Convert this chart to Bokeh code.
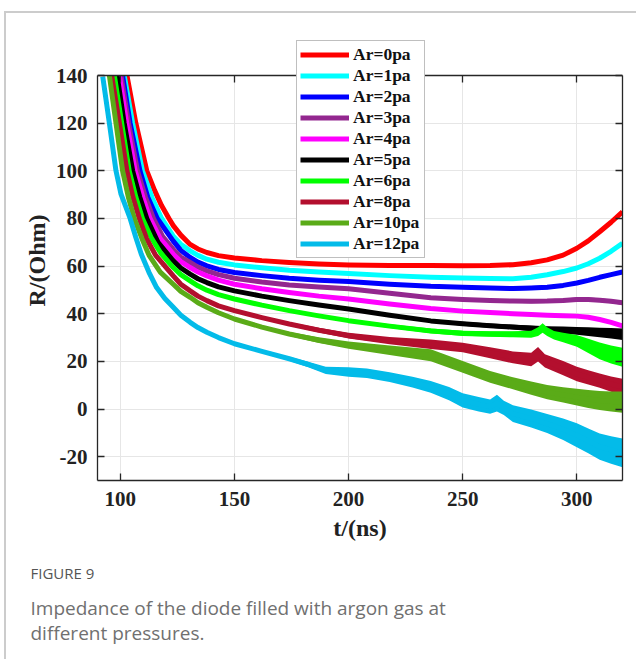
from bokeh.plotting import figure
from bokeh.models import (Range1d, LinearAxis, Legend, LegendItem, Title, FixedTicker,
                          CustomLabelingPolicy)
from bokeh.embed import file_html
from bokeh.resources import INLINE

# ---------------- data ----------------
labels = ["Ar=0pa", "Ar=1pa", "Ar=2pa", "Ar=3pa", "Ar=4pa",
          "Ar=5pa", "Ar=6pa", "Ar=8pa", "Ar=10pa", "Ar=12pa"]
colors = ["#ff0000", "#00ffff", "#0000ff", "#93278f", "#ff00ff",
          "#000000", "#00ff00", "#b30f2e", "#5aab18", "#03bbe9"]

# time (ns), resistance (Ohm), half-width of the noise band (Ohm)
t_0 = [102.9, 106.8, 111.6, 115.0, 118.0, 121.3, 123.2, 126.5, 130.6, 134, 137.9, 143, 150, 162, 174, 187, 200, 218, 236, 250, 262, 272, 280, 287, 294, 300, 305, 310, 315, 320]
r_0 = [140, 120, 100, 91.8, 85.5, 80, 77, 73, 69.1, 67.2, 65.7, 64.4, 63.4, 62.3, 61.5, 60.9, 60.5, 60.3, 60.2, 60.1, 60.2, 60.6, 61.4, 62.6, 64.6, 67.5, 70.6, 74.4, 78.4, 82.8]
n_0 = [0] * 21 + [0.2] * 9

t_1 = [101.7, 105.4, 109.7, 114, 118.1, 123.2, 126.5, 130.6, 134, 137.9, 143, 150, 162, 174, 187, 200, 218, 236, 250, 262, 272, 280, 287, 294, 300, 305, 310, 315, 320]
r_1 = [140, 120, 100, 88.5, 80, 72.6, 69.2, 66.4, 64.5, 62.9, 61.6, 60.5, 59.3, 58.3, 57.5, 56.9, 56.0, 55.3, 55.0, 54.8, 54.7, 55.3, 56.4, 57.7, 59.2, 61.0, 63.3, 66.2, 69.6]
n_1 = [0] * 20 + [0.2] * 9

t_2 = [101.0, 104.3, 108.6, 112, 116.2, 123.2, 126.5, 130.6, 134, 137.9, 143, 150, 162, 174, 187, 200, 218, 236, 250, 262, 272, 280, 287, 294, 300, 305, 310, 315, 320]
r_2 = [140, 120, 100, 89, 80, 70.5, 66.6, 63.6, 61.7, 60.1, 58.6, 57.3, 56.0, 54.9, 54.1, 53.5, 52.4, 51.5, 51.1, 50.8, 50.6, 50.8, 51.1, 51.9, 52.9, 54.0, 55.3, 56.4, 57.5]
n_2 = [0] * 16 + [0.3, 0.5, 0.7, 0.7, 0.8, 0.8, 0.8, 0.7, 0.6, 0.5, 0.5, 0.5, 0.5]

t_3 = [100.3, 103.6, 107.5, 111, 114.5, 118.5, 123.2, 126.5, 130.6, 134, 137.9, 143, 150, 162, 174, 187, 200, 218, 236, 250, 262, 272, 280, 287, 294, 300, 305, 310, 315, 320]
r_3 = [140, 120, 100, 89, 80, 72.5, 67, 63.8, 61.5, 59.6, 58, 56.4, 54.9, 53.3, 52.1, 51.2, 50.5, 48.6, 46.7, 46.0, 45.6, 45.3, 45.2, 45.3, 45.6, 46.0, 46.0, 45.7, 45.2, 44.6]
n_3 = [0] * 17 + [0.3, 0.5, 0.6, 0.7, 0.7, 0.8, 0.8, 0.8, 0.8, 0.8, 0.8, 0.8, 0.8]

t_4 = [99.6, 102.8, 106.5, 110, 113.0, 117.5, 123.2, 126.5, 130.6, 134, 137.9, 143, 150, 162, 174, 187, 200, 218, 236, 250, 262, 272, 280, 287, 294, 300, 305, 310, 315, 320]
r_4 = [140, 120, 100, 88.5, 80, 71.5, 65, 61.9, 59.4, 57.5, 55.9, 54.1, 52.4, 50.5, 48.9, 47.4, 46.2, 44.1, 42.2, 41.1, 40.5, 40.0, 39.7, 39.4, 39.2, 39.0, 38.5, 37.6, 36.4, 34.9]
n_4 = [0] * 18 + [0.3] * 4 + [0.4] * 4 + [0.5] * 4

t_5 = [98.6, 101.7, 105.4, 108.5, 111.6, 116.5, 123.0, 126.5, 130.6, 134, 137.9, 143, 150, 162, 174, 187, 200, 218, 236, 250, 262, 272, 280, 287, 294, 300, 305, 310, 315, 320]
r_5 = [140, 120, 100, 89, 80, 70, 62.4, 59.2, 56.6, 54.7, 53.1, 51.3, 49.6, 47.4, 45.5, 43.7, 42.0, 39.4, 37.0, 35.8, 35.0, 34.4, 33.9, 33.5, 33.1, 32.8, 32.5, 32.1, 31.8, 31.4]
n_5 = [0] * 15 + [0.2, 0.4, 0.5, 0.6, 0.8, 0.9, 1.0, 1.2, 1.3, 1.5, 1.6, 1.8, 2.0, 2.2, 2.4]

t_6 = [97.4, 100.6, 103.9, 106.8, 109.7, 113.5, 117.7, 123.2, 126.5, 130.6, 134, 137.9, 143, 150, 162, 174, 187, 200, 218, 236, 250, 262, 272, 280, 283, 285, 287, 290, 294, 300, 305, 310, 315, 320]
r_6 = [140, 120, 100, 89, 80, 72, 65.5, 59.4, 56.4, 53.8, 51.7, 49.9, 48.0, 46.2, 43.6, 41.3, 39.1, 37.1, 34.8, 32.8, 31.8, 31.5, 31.4, 31.4, 32.5, 34.0, 32.5, 31.0, 30.0, 28.6, 26.5, 24.4, 22.9, 21.7]
n_6 = [0] * 14 + [0.2, 0.3, 0.5, 0.6, 0.8, 1.0, 1.1, 1.2, 1.3, 1.5, 1.8, 2.0, 1.8, 1.8, 2.0, 2.5, 3.0, 3.5, 3.8, 4.0]

t_8 = [96.2, 99.6, 102.9, 105.5, 108.3, 111.5, 115.5, 123.2, 126.5, 130.6, 134, 137.9, 143, 150, 162, 174, 187, 200, 218, 236, 250, 262, 272, 280, 283, 286, 294, 300, 305, 310, 315, 320]
r_8 = [140, 120, 100, 89, 80, 71.5, 64.5, 55.9, 52.4, 49.6, 47.4, 45.5, 43.3, 41.3, 38.4, 35.7, 33.1, 30.8, 28.7, 27.2, 25.8, 23.6, 21.7, 20.8, 23.0, 20.2, 17.2, 14.7, 13.3, 11.9, 10.5, 9.2]
n_8 = [0] * 13 + [0.3, 0.5, 0.7, 1.0, 1.2, 1.5, 2.0, 2.0, 2.3, 2.5, 2.8, 3.0, 2.8, 3.0, 3.0, 3.0, 3.0, 3.2, 3.5]

t_10 = [95.2, 98.1, 101.0, 103.5, 106.1, 109.5, 112.6, 117.5, 123.2, 126.5, 130.6, 134, 137.9, 143, 150, 162, 174, 187, 200, 218, 236, 250, 262, 272, 280, 287, 294, 300, 305, 310, 315, 320]
r_10 = [140, 120, 100, 89, 80, 71.5, 64.5, 57.5, 52.4, 49.4, 46.9, 44.6, 42.7, 40.4, 37.8, 34.4, 31.5, 28.9, 26.8, 24.7, 22.6, 17.7, 13.5, 10.8, 8.8, 7.1, 5.9, 5.0, 4.2, 3.6, 3.2, 2.9]
n_10 = [0] * 14 + [0.3, 0.5, 0.8, 1.2, 1.5, 2.0, 2.5, 2.5, 2.5, 2.5, 2.8, 3.0, 3.2, 3.5, 3.8, 4.0, 4.2, 4.5]

t_12 = [92.3, 95.2, 98.1, 100.3, 104.3, 106.8, 109.2, 112.5, 115.9, 119.5, 123.2, 126.5, 130.6, 134, 137.9, 143, 150, 162, 174, 182, 190, 200, 208, 218, 228, 236, 244, 250, 257, 262, 265, 268, 272, 280, 287, 294, 300, 305, 310, 315, 320]
r_12 = [139.5, 120, 100, 90.2, 80, 72, 65, 57.5, 51, 46.4, 42.7, 39.4, 36.4, 34.2, 32.2, 30.0, 27.4, 24.2, 21.1, 18.8, 16.2, 15.5, 15.0, 13.4, 11.3, 9.3, 6.5, 3.6, 2.0, 1.0, 2.5, 0.5, -1.9, -4.0, -6.1, -8.5, -11.0, -13.4, -15.8, -17.2, -18.4]
n_12 = [0] * 15 + [0.2, 0.3, 0.5, 0.8, 1.2, 1.5, 2.0, 2.0, 2.0, 2.3, 2.5, 2.8, 3.0, 3.0, 3.0, 3.5, 3.0, 3.5, 3.8, 4.0, 4.5, 5.0, 5.2, 5.5, 5.8, 6.0]

series_t = [t_0, t_1, t_2, t_3, t_4, t_5, t_6, t_8, t_10, t_12]
series_r = [r_0, r_1, r_2, r_3, r_4, r_5, r_6, r_8, r_10, r_12]
series_n = [n_0, n_1, n_2, n_3, n_4, n_5, n_6, n_8, n_10, n_12]
for a, b, c in zip(series_t, series_r, series_n):
    assert len(a) == len(b) == len(c), (len(a), len(b), len(c))

x_ticks = [100, 150, 200, 250, 300]
y_ticks = [-20, 0, 20, 40, 60, 80, 100, 120, 140]
y_tick_labels = ["-20", "0", "20", "40", "60", "80", "100", "120", "140"]
x_lim = (90, 320)
y_lim = (-30, 140)

caption_head = "FIGURE 9"
caption_text = "Impedance of the diode filled with argon gas at\ndifferent pressures."

# ---------------- figure ----------------
# the frame is extended above the axes box so that the legend can overlap the top edge
p = figure(width=632, height=648, output_backend="svg", toolbar_location=None,
           x_range=Range1d(*x_lim), y_range=Range1d(y_lim[0], 154.7),
           min_border_left=91, min_border_right=16, min_border_top=27, min_border_bottom=181,
           background_fill_color="white", border_fill_color="white")
p.margin = (11, 0, 0, 4)
p.styles = {"border-top": "2px solid #cccccc", "border-left": "2px solid #cccccc"}
p.outline_line_color = None

FONT = "Liberation Serif"
AX = "#262626"
for ax in (p.xaxis[0], p.yaxis[0]):
    ax.major_label_text_font = FONT
    ax.major_label_text_font_style = "bold"
    ax.major_label_text_font_size = "21px"
    ax.major_label_text_color = "#222222"
    ax.axis_label_text_font = FONT
    ax.axis_label_text_font_style = "bold"
    ax.axis_label_text_font_size = "24px"
    ax.axis_label_text_color = "#222222"
    ax.major_tick_in = 7
    ax.major_tick_out = 0
    ax.minor_tick_line_color = None
    ax.axis_line_color = AX
    ax.axis_line_width = 1.3
    ax.major_tick_line_color = AX
    ax.major_tick_line_width = 1.3

p.xaxis[0].ticker = FixedTicker(ticks=x_ticks)
p.yaxis[0].ticker = FixedTicker(ticks=y_ticks)
p.yaxis[0].major_label_overrides = {v: s for v, s in zip(y_ticks, y_tick_labels)}
p.yaxis[0].bounds = y_lim
p.xaxis[0].axis_label = "t/(ns)"
p.yaxis[0].axis_label = "R/(Ohm)"
p.xaxis[0].major_label_standoff = 11
p.xaxis[0].axis_label_standoff = 6
p.yaxis[0].major_label_standoff = 10
p.yaxis[0].axis_label_standoff = 3

no_labels = CustomLabelingPolicy(code="""
    const n = indices.size
    for (let i = 0; i < n; i++) { indices.unset(i) }
    return indices
""")
common = dict(major_label_standoff=0, major_tick_in=7, major_label_policy=no_labels,
              major_tick_out=0, minor_tick_line_color=None, axis_line_color=AX,
              axis_line_width=1.3, major_tick_line_color=AX, major_tick_line_width=1.3)
top_ax = LinearAxis(ticker=FixedTicker(ticks=x_ticks), fixed_location=y_lim[1],
                    major_label_text_font_size="1px", **common)
right_ax = LinearAxis(ticker=FixedTicker(ticks=y_ticks), bounds=y_lim,
                      major_label_text_font_size="1px", **common)
p.add_layout(top_ax, "above")
p.add_layout(right_ax, "right")

p.xgrid.ticker = FixedTicker(ticks=x_ticks)
p.ygrid.ticker = FixedTicker(ticks=y_ticks)
p.xgrid.cross_bounds = y_lim
p.grid.grid_line_color = "#e6e6e6"
p.grid.grid_line_width = 1

items = []
for lab, col, t, r, n in zip(labels, colors, series_t, series_r, series_n):
    if any(v > 0 for v in n):
        lo = [ri - ni for ri, ni in zip(r, n)]
        hi = [ri + ni for ri, ni in zip(r, n)]
        p.varea(x=t, y1=lo, y2=hi, fill_color=col, fill_alpha=1.0)
    ln = p.line(t, r, line_color=col, line_width=5, line_join="round", line_cap="butt")
    items.append(LegendItem(label=lab, renderers=[ln]))

legend = Legend(items=items, location=(199, 222))
legend.label_text_font = FONT
legend.label_text_font_style = "bold"
legend.label_text_font_size = "17.5px"
legend.label_text_color = "#111111"
legend.glyph_width = 49
legend.glyph_height = 21
legend.label_height = 21
legend.label_width = 68
legend.label_standoff = 4
legend.spacing = 0
legend.padding = 3
legend.margin = 0
legend.border_line_color = "#7f7f7f"
legend.border_line_width = 1.5
legend.background_fill_color = "white"
legend.background_fill_alpha = 1.0
p.add_layout(legend)

# caption below the chart
p.add_layout(Title(text=caption_head, align="left", offset=-67, standoff=34,
                   text_font="Open Sans", text_font_size="15px", text_font_style="normal",
                   text_color="#555555"), "below")
p.add_layout(Title(text=caption_text, align="left", offset=-67, standoff=-12,
                   text_font="Open Sans", text_font_size="19px", text_font_style="normal",
                   text_line_height=0.98, text_color="#707070"), "below")

open("out.html", "w").write(file_html(p, INLINE))
